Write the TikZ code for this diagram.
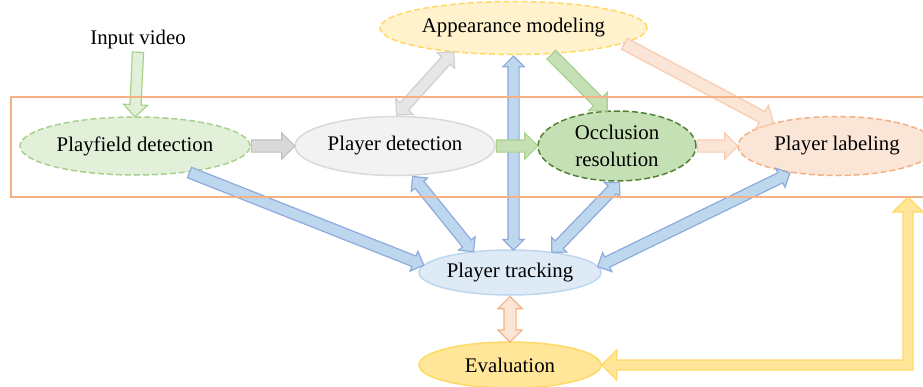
\documentclass[tikz,border=0pt]{standalone}
\usepackage{fontspec}
\setmainfont{Liberation Serif}
\usetikzlibrary{shapes.geometric,shapes.arrows,calc}
\definecolor{pfFill}{HTML}{E2F0D9}
\definecolor{pfLine}{HTML}{A9D18E}
\definecolor{pdFill}{HTML}{F2F2F2}
\definecolor{pdLine}{HTML}{D9D9D9}
\definecolor{amFill}{HTML}{FFF2CC}
\definecolor{amLine}{HTML}{FFD966}
\definecolor{ocFill}{HTML}{C5E0B4}
\definecolor{ocLine}{HTML}{548235}
\definecolor{plFill}{HTML}{FBE5D6}
\definecolor{plLine}{HTML}{F4B183}
\definecolor{ptFill}{HTML}{DEEBF7}
\definecolor{ptLine}{HTML}{BDD7EE}
\definecolor{evFill}{HTML}{FFE699}
\definecolor{evLine}{HTML}{FFD966}
\definecolor{frameC}{HTML}{F4B183}
\definecolor{grayA}{HTML}{D9D9D9}
\definecolor{grayAL}{HTML}{BFBFBF}
\definecolor{grayB}{HTML}{E7E6E6}
\definecolor{grayBL}{HTML}{D0CECE}
\definecolor{greenA}{HTML}{C5E0B4}
\definecolor{greenAL}{HTML}{A9D18E}
\definecolor{orA}{HTML}{FBE5D6}
\definecolor{orAL}{HTML}{F8CBAD}
\definecolor{blA}{HTML}{BDD7EE}
\definecolor{blAL}{HTML}{8FAADC}
\newcommand\blockarrow[3]{%
  \path let \p1=(#2), \p2=(#3), \n1={atan2(\y2-\y1,\x2-\x1)},
    \n2={veclen(\x2-\x1,\y2-\y1)} in
    node[#1, minimum height=\n2, rotate=\n1] at (\p1) {};}
\tikzset{
  ell/.style={ellipse, inner sep=0pt, line width=1.5pt},
  dsh/.style={dash pattern=on 6pt off 3pt},
  sarr/.style={single arrow, draw, line width=1.2pt, inner sep=0pt,
    inner ysep=5.5pt, single arrow head extend=7pt, anchor=tail},
  darr/.style={double arrow, draw, line width=1.2pt, inner sep=0pt,
    inner ysep=5.5pt, double arrow head extend=7pt, anchor=tip 2},
  blue/.style={fill=blA, draw=blAL, inner ysep=5pt,
    single arrow head extend=5pt, double arrow head extend=5pt},
  green/.style={fill=greenA, draw=greenAL},
  orng/.style={fill=orA, draw=orAL},
}
\begin{document}
\begin{tikzpicture}[x=1pt, y=-1pt, font=\fontsize{20.8}{27}\selectfont]
\useasboundingbox (0,0) rectangle (923,386);
\clip (0,0) rectangle (923,386);
% nodes
\node (iv) at (138,39) [inner sep=3pt] {Input video};
\node[ell, fill=pfFill, draw=pfLine, dsh, minimum width=230pt, minimum height=58pt] (pf) at (135,146) {Playfield detection};
\node[ell, fill=pdFill, draw=pdLine, minimum width=200pt, minimum height=59pt] (pd) at (395,146) {Player detection};
\node[ell, fill=amFill, draw=amLine, dsh, minimum width=267pt, minimum height=53pt] (am) at (513.5,28) {Appearance modeling};
\node[ell, fill=ocFill, draw=ocLine, dsh, minimum width=158pt, minimum height=70pt, align=center] (oc) at (617,146) {Occlusion\\resolution};
\node[ell, fill=plFill, draw=plLine, dsh, minimum width=198pt, minimum height=59pt] (pl) at (837,146) {Player labeling};
\node[ell, fill=ptFill, draw=ptLine, minimum width=182pt, minimum height=45pt] (pt) at (510,272.5) {Player tracking};
\node[ell, fill=evFill, draw=evLine, minimum width=182pt, minimum height=46pt] (ev) at (510,365) {Evaluation};
% arrows
\blockarrow{sarr, fill=pfFill, draw=greenAL, inner ysep=5pt, single arrow head extend=6.5pt}{iv.south}{pf.north}
\blockarrow{sarr, fill=grayA, draw=grayAL}{pf.east}{pd.west}
\blockarrow{darr, fill=grayB, draw=grayBL, inner ysep=5pt, double arrow head extend=6pt}{pd.88}{am.202}
\blockarrow{sarr, green}{am.-35}{oc.106}
\blockarrow{sarr, orng}{am.-8}{pl.160}
\blockarrow{darr, blue}{am.south}{am.south |- pt.north}
\blockarrow{sarr, green}{pd.east}{oc.west}
\blockarrow{sarr, orng}{oc.east}{pl.west}
\blockarrow{sarr, blue}{pf.-26}{pt.175}
\blockarrow{darr, blue}{pd.-60}{pt.150}
\blockarrow{darr, blue}{oc.-85}{pt.26}
\blockarrow{darr, blue}{pl.210}{pt.4}
\blockarrow{darr, fill=orA, draw=plLine, double arrow head extend=6pt}{pt.south}{ev.north}
% yellow elbow arrow
\coordinate (yt) at (908,197);
\draw[fill=evFill, draw=evLine, line width=1.2pt, line join=miter]
  (yt) -- ++(15,15) -- ++(-10,0) -- ($(yt |- ev.east)+(5,5)$)
  -- ($(ev.east)+(15,5)$) -- ++(0,10) -- (ev.east) -- ++(15,-15)
  -- ++(0,10) -- ($(yt |- ev.east)+(-5,-5)$) -- ($(yt)+(-5,15)$)
  -- ++(-10,0) -- cycle;
% frame
\draw[frameC, line width=1.5pt] (11,97) rectangle (940,197);
\end{tikzpicture}
\end{document}
